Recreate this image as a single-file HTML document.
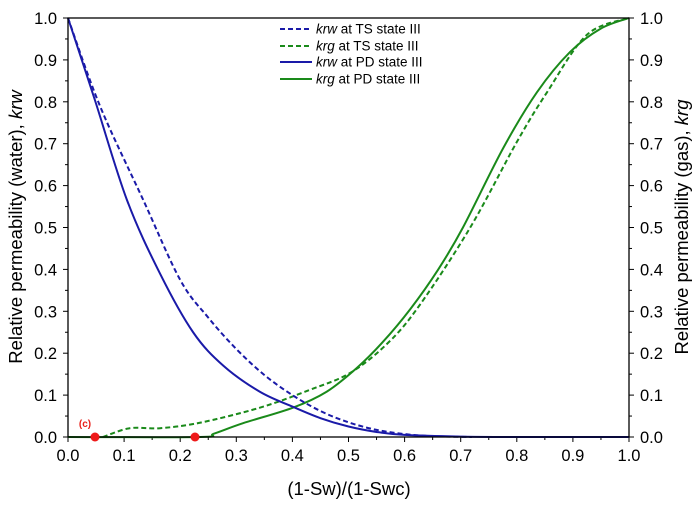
<!DOCTYPE html>
<html><head><meta charset="utf-8"><style>
body{margin:0;background:#fff}
svg{display:block;font-family:"Liberation Sans",Arial,sans-serif}
</style></head><body>
<svg id="s" width="700" height="505" xmlns="http://www.w3.org/2000/svg">
<g id="g"></g>
<rect x="68" y="18" width="561" height="419" fill="none" stroke="#000" stroke-width="1.3"/>
<g fill="#000">
<text transform="translate(22,227) rotate(-90)" text-anchor="middle" font-size="18.5">Relative permeability (water), <tspan font-style="italic">krw</tspan></text>
<text transform="translate(688,227) rotate(-90)" text-anchor="middle" font-size="18.5">Relative permeability (gas), <tspan font-style="italic">krg</tspan></text>
<text x="349" y="495" text-anchor="middle" font-size="18.5">(1-Sw)/(1-Swc)</text>
</g>
<g font-size="13.5">
<line x1="280" y1="29" x2="312" y2="29" stroke="#1a1aa8" stroke-width="2" stroke-dasharray="5,3"/>
<text x="316" y="33.5"><tspan font-style="italic">krw</tspan> at TS state III</text>
<line x1="280" y1="46" x2="312" y2="46" stroke="#1a8a1a" stroke-width="2" stroke-dasharray="5,3"/>
<text x="316" y="50.5"><tspan font-style="italic">krg</tspan> at TS state III</text>
<line x1="280" y1="62" x2="312" y2="62" stroke="#1a1aa8" stroke-width="2"/>
<text x="316" y="66.5"><tspan font-style="italic">krw</tspan> at PD state III</text>
<line x1="280" y1="79" x2="312" y2="79" stroke="#1a8a1a" stroke-width="2"/>
<text x="316" y="83.5"><tspan font-style="italic">krg</tspan> at PD state III</text>
</g>
<text x="85" y="427" font-size="10" font-weight="bold" fill="#e8201a" text-anchor="middle">(c)</text>
<circle cx="95" cy="437" r="4.5" fill="#ee1a1a"/>
<circle cx="195" cy="437" r="4.5" fill="#ee1a1a"/>
</svg>
<script>
var X=v=>68+561*v,Y=v=>437-419*v,g=document.getElementById('g'),h='';
for(var i=0;i<=20;i++){var v=i/20,maj=i%2==0,L=maj?5:3;
h+=`<line x1="${X(v)}" y1="437" x2="${X(v)}" y2="${437+L}" stroke="#000"/>`;
h+=`<line x1="68" y1="${Y(v)}" x2="${68-L}" y2="${Y(v)}" stroke="#000"/>`;
h+=`<line x1="629" y1="${Y(v)}" x2="${629+L}" y2="${Y(v)}" stroke="#000"/>`;
if(maj){var t=v.toFixed(1);
h+=`<text x="${X(v)}" y="461" font-size="16.5" text-anchor="middle">${t}</text>`;
h+=`<text x="57" y="${Y(v)+6}" font-size="16.5" text-anchor="end">${t}</text>`;
h+=`<text x="640" y="${Y(v)+6}" font-size="16.5">${t}</text>`;}}
function path(pts,col,dash){
var p=pts.map(a=>[X(a[0]),Y(a[1])]),d='M'+p[0];
for(var i=0;i<p.length-1;i++){var p0=p[i-1]||p[i],p1=p[i],p2=p[i+1],p3=p[i+2]||p2;
d+=` C${p1[0]+(p2[0]-p0[0])/6},${p1[1]+(p2[1]-p0[1])/6} ${p2[0]-(p3[0]-p1[0])/6},${p2[1]-(p3[1]-p1[1])/6} ${p2[0]},${p2[1]}`;}
return `<path d="${d}" fill="none" stroke="${col}" stroke-width="2" ${dash?'stroke-dasharray="5,3"':''}/>`;}
var B='#1a1aa8',G='#1a8a1a';
h+=path([[0,0],[0.235,0],[0.26,0.008],[0.312,0.033],[0.401,0.07],[0.461,0.108],[0.515,0.165],[0.56,0.225],[0.61,0.305],[0.66,0.4],[0.704,0.5],[0.776,0.69],[0.836,0.823],[0.895,0.919],[0.95,0.975],[1,1]],G,0);
h+=path([[0.062,0],[0.11,0.021],[0.164,0.021],[0.235,0.034],[0.342,0.07],[0.43,0.112],[0.503,0.153],[0.57,0.224],[0.627,0.315],[0.717,0.5],[0.8,0.704],[0.854,0.823],[0.925,0.96],[1,1]],G,1);
h+=path([[0,1],[0.048,0.804],[0.105,0.566],[0.164,0.39],[0.223,0.25],[0.277,0.17],[0.342,0.108],[0.401,0.072],[0.45,0.045],[0.5,0.025],[0.55,0.012],[0.6,0.005],[0.7,0.001],[0.8,0],[1,0]],B,0);
h+=path([[0,1],[0.057,0.79],[0.134,0.566],[0.2,0.375],[0.25,0.285],[0.3,0.21],[0.35,0.148],[0.4,0.1],[0.45,0.062],[0.5,0.035],[0.55,0.017],[0.6,0.007],[0.65,0.002],[0.72,0]],B,1);
g.innerHTML=h;
</script>
</body></html>
